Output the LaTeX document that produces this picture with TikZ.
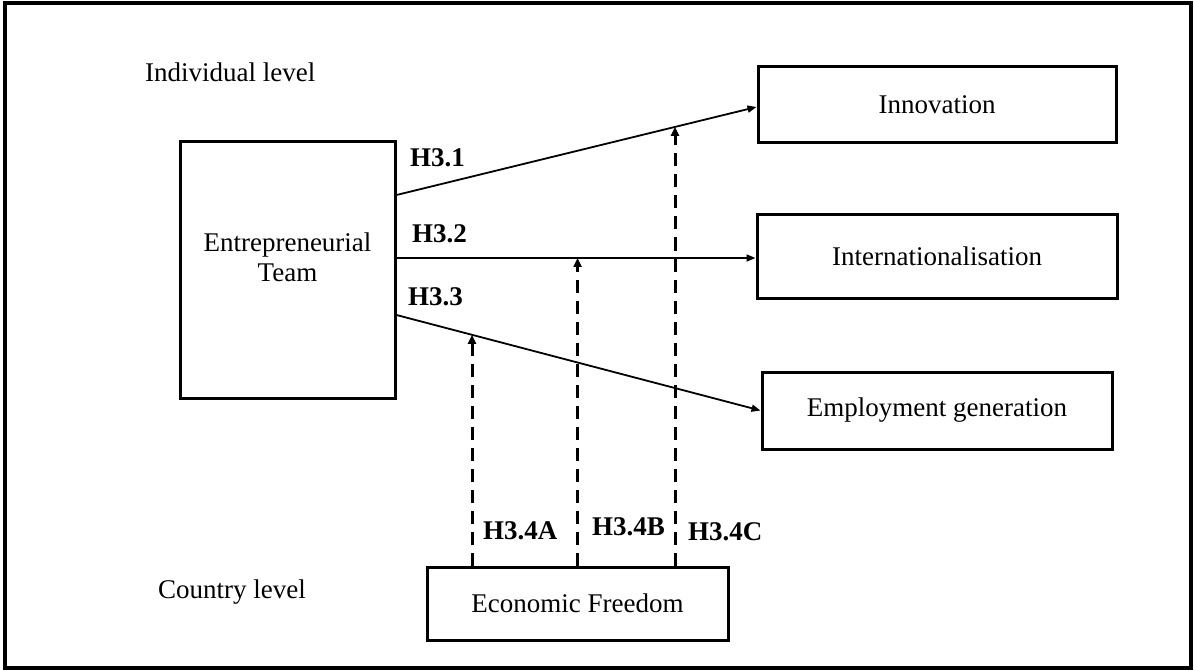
\documentclass[tikz,border=0pt]{standalone}
\usepackage{fontspec}
\setmainfont{Liberation Serif}
\usetikzlibrary{arrows.meta,intersections}
\begin{document}
\begin{tikzpicture}[x=1pt,y=-1pt,
  every node/.style={font=\fontsize{27}{30}\selectfont, inner sep=0pt},
  box/.style={draw, line width=3pt},
  txt/.style={anchor=base west},
  lab/.style={anchor=base west, font=\fontsize{27}{30}\selectfont\bfseries},
  link/.style={line width=1.8pt, -{Triangle[length=9pt,width=7pt]}},
  moder/.style={line width=3pt, dash pattern=on 13pt off 8pt, -{Triangle[length=9pt,width=8pt]}},
]
\useasboundingbox (0,0) rectangle (1194,671);
% frame
\draw[line width=4pt] (5,3) rectangle (1191,668);

% level captions
\node[txt] (ind) at (145,82) {Individual level};
\node[txt] (cty) at (158,598) {Country level};

% boxes
\node[box, minimum width=215pt, minimum height=256pt] (et) at (287.5,270) {};
\node[align=center] (etl) at (287.5,257.5) {Entrepreneurial\\Team};
\node[box, minimum width=358pt, minimum height=76pt] (inn) at (937,105) {Innovation};
\node[box, minimum width=360pt, minimum height=83pt] (int) at (937,256.5) {Internationalisation};
\node[box, minimum width=350pt, minimum height=77pt] (emp) at (937,410.5) {Employment generation};
\node[box, minimum width=301pt, minimum height=73pt] (ef) at (577.5,603.5) {Economic Freedom};

% direct effects
\coordinate (s1) at ([yshift=75pt]et.east);
\coordinate (s2) at ([yshift=12pt]et.east);
\coordinate (s3) at ([yshift=-45pt]et.east);
\draw[link, name path=p1] (s1) -- ([yshift=-2pt]inn.west);
\draw[link, name path=p2] (s2) -- (s2 -| int.west);
\draw[link, name path=p3] (s3) -- (emp.west);

% moderation by economic freedom
\coordinate (ba) at ([xshift=-105.5pt]ef.north);
\coordinate (bb) at (ef.north);
\coordinate (bc) at ([xshift=97.5pt]ef.north);
\path[name path=va] (ba) -- ++(0,-500);
\path[name path=vb] (bb) -- ++(0,-500);
\path[name path=vc] (bc) -- ++(0,-500);
\path[name intersections={of=va and p3, by=ta}];
\path[name intersections={of=vb and p2, by=tb}];
\path[name intersections={of=vc and p1, by=tc}];
\draw[moder] (ba) -- (ta);
\draw[moder] (bb) -- (tb);
\draw[moder] (bc) -- (tc);

% hypothesis labels
\node[lab] (h1) at (410,167) {H3.1};
\node[lab] (h2) at (412,243) {H3.2};
\node[lab] (h3) at (408,305) {H3.3};
\node[lab] (h4a) at (483,539) {H3.4A};
\node[lab] (h4b) at (592,535) {H3.4B};
\node[lab] (h4c) at (688,540) {H3.4C};
\end{tikzpicture}
\end{document}
